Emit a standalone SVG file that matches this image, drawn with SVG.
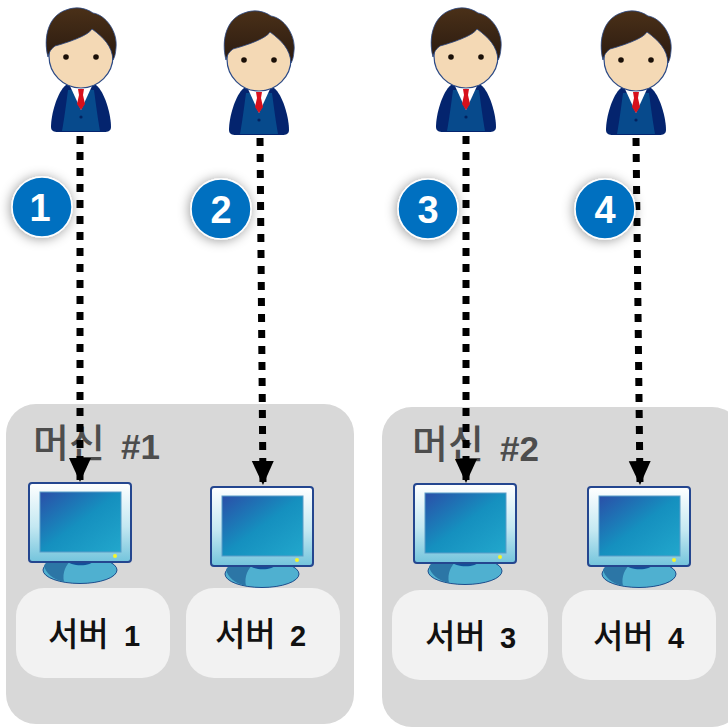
<svg xmlns="http://www.w3.org/2000/svg" xmlns:xlink="http://www.w3.org/1999/xlink" width="728" height="727" viewBox="0 0 728 727">
<style>
.panel{fill:#d8d8d8}
.srv{fill:#f2f2f2}
.t{font-family:"Noto Sans CJK KR","Liberation Sans",sans-serif;font-weight:500;font-size:33px;fill:#111}
.l{font-family:"Liberation Sans",sans-serif;font-weight:700;font-size:29px}
.m{font-family:"Noto Sans CJK KR","Liberation Sans",sans-serif;font-weight:500;font-size:39px;fill:#4d4d4d}
.n{font-family:"Liberation Sans",sans-serif;font-weight:700;font-size:35px}
.b{font-family:"Liberation Sans",sans-serif;font-weight:700;font-size:38px;fill:#fff;text-anchor:middle}
.badge{fill:#0070c0;stroke:#fff;stroke-width:1.5;filter:url(#sh)}
.c{fill:none;stroke:#000;stroke-width:7;stroke-dasharray:8 8}
</style>
<defs>
<filter id="sh" x="-50%" y="-50%" width="200%" height="200%"><feDropShadow dx="-1" dy="1" stdDeviation="6" flood-color="#000" flood-opacity=".4"/></filter>
<marker id="ah" markerUnits="userSpaceOnUse" markerWidth="24" markerHeight="24" refX="24" refY="12" orient="auto"><path d="M0 1L24 12L0 23Z" fill="#000"/></marker>
<linearGradient id="hair" x1="0" y1="0" x2="0" y2="1"><stop offset="0" stop-color="#4a3018"/><stop offset="1" stop-color="#2a1a10"/></linearGradient>
<linearGradient id="scr" x1="0" y1="0" x2="1" y2="1"><stop offset="0" stop-color="#2a4fa8"/><stop offset=".5" stop-color="#1590bf"/><stop offset="1" stop-color="#22a7cc"/></linearGradient>
<linearGradient id="frm" x1="0" y1="0" x2="0" y2="1"><stop offset="0" stop-color="#fff"/><stop offset=".55" stop-color="#c4e8f2"/><stop offset="1" stop-color="#73c4dc"/></linearGradient>
<symbol id="person" overflow="visible">
<path d="M66 85L96 85C105 92 111 115 111 127C111 131 108 132 104 132L58 132C54 132 51 131 51 127C51 115 57 92 66 85Z" fill="#04246e"/>
<path d="M68 90L94 90C96 105 98 120 100 131L62 131C64 120 66 105 68 90Z" fill="#074a8c"/>
<path d="M70 86L81 110L92 86L88 82L74 82Z" fill="#fff"/>
<path d="M78 89L84 89L83 95L85 104L81 110L77 104L79 95Z" fill="#d8101c"/>
<circle cx="81" cy="117" r="1.6" fill="#03225f"/>
<circle cx="81" cy="56" r="32" fill="#f4d9b5" stroke="#2c4a86" stroke-width="1.2"/>
<path d="M48 57C43 38 48 16 66 10C76 6 86 8 93 13C106 15 118 32 116 48C115.500 53 115 57 113 60C112 46 104 38 92 29C88 36 66 43 55 46C51 49 49 52 48 57Z" fill="url(#hair)" stroke="#2c4a86" stroke-width=".8"/>
<circle cx="66" cy="57" r="2.800" fill="#1a1008"/>
<circle cx="96" cy="57" r="2.800" fill="#1a1008"/>
</symbol>
<symbol id="monitor" overflow="visible">
<ellipse cx="80" cy="570" rx="37" ry="13.500" fill="#4fb0d0" stroke="#1d4d8c" stroke-width="1"/>
<path d="M44 566C46 560 55 558 72 559C66 565 62 572 64 582C52 579 46 573 44 566Z" fill="#2c76a6"/>
<path d="M66 560L94 560C92 567 70 567 66 560Z" fill="#124f98"/>
<rect x="29" y="483" width="102" height="79" rx="3" fill="url(#frm)" stroke="#24468f" stroke-width="2"/>
<rect x="40" y="492" width="81" height="60" fill="url(#scr)" stroke="#5b9dc8" stroke-width="1"/>
<circle cx="115" cy="556" r="2" fill="#f5f52a"/>
</symbol>
</defs>
<rect width="728" height="727" fill="#fff"/>
<g id="machine-1"><rect class="panel" x="6" y="404" width="348" height="320" rx="30"/><text class="m" x="33" y="457">머신<tspan class="n" x="121" y="459">#1</tspan></text></g>
<g id="machine-2"><rect class="panel" x="382" y="407" width="360" height="320" rx="30"/><text class="m" x="412" y="458">머신<tspan class="n" x="500" y="461">#2</tspan></text></g>
<g id="connectors">
<path class="c" marker-end="url(#ah)" d="M80 136L80 482"/>
<path class="c" marker-end="url(#ah)" d="M260 138L263 485"/>
<path class="c" marker-end="url(#ah)" d="M466 136L466 483"/>
<path class="c" marker-end="url(#ah)" d="M636 138L640 485"/>
</g>
<g id="user-1"><use href="#person" xlink:href="#person"/></g>
<g id="user-2"><use href="#person" xlink:href="#person" x="178" y="3"/></g>
<g id="user-3"><use href="#person" xlink:href="#person" x="385" y="0"/></g>
<g id="user-4"><use href="#person" xlink:href="#person" x="555" y="3"/></g>
<g id="badge-1"><circle class="badge" cx="42" cy="207" r="30"/><text class="b" x="40" y="221">1</text></g>
<g id="badge-2"><circle class="badge" cx="221" cy="209" r="30"/><text class="b" x="221" y="223">2</text></g>
<g id="badge-3"><circle class="badge" cx="428" cy="209" r="30"/><text class="b" x="428" y="223">3</text></g>
<g id="badge-4"><circle class="badge" cx="605" cy="209" r="30"/><text class="b" x="605" y="223">4</text></g>
<g id="monitor-1"><use href="#monitor" xlink:href="#monitor"/></g>
<g id="monitor-2"><use href="#monitor" xlink:href="#monitor" x="182" y="4"/></g>
<g id="monitor-3"><use href="#monitor" xlink:href="#monitor" x="385" y="1"/></g>
<g id="monitor-4"><use href="#monitor" xlink:href="#monitor" x="559" y="4"/></g>
<g id="server-1"><rect class="srv" x="16" y="588" width="154" height="90" rx="28"/><text class="t" x="48" y="646">서버<tspan class="l" x="124">1</tspan></text></g>
<g id="server-2"><rect class="srv" x="186" y="588" width="154" height="90" rx="28"/><text class="t" x="215" y="646">서버<tspan class="l" x="290">2</tspan></text></g>
<g id="server-3"><rect class="srv" x="392" y="590" width="156" height="90" rx="28"/><text class="t" x="425" y="648">서버<tspan class="l" x="500">3</tspan></text></g>
<g id="server-4"><rect class="srv" x="562" y="590" width="154" height="90" rx="28"/><text class="t" x="593" y="648">서버<tspan class="l" x="668">4</tspan></text></g>
</svg>
